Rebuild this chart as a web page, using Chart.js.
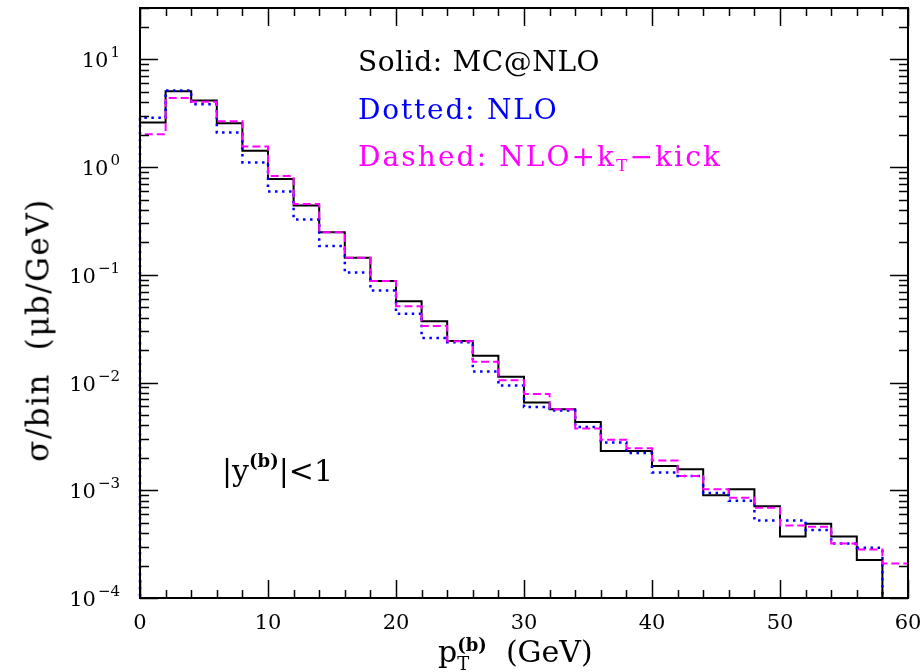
<!DOCTYPE html>
<html>
<head>
<meta charset="utf-8">
<title>b-quark transverse momentum</title>
<script src="https://cdn.jsdelivr.net/npm/chart.js@4/dist/chart.umd.min.js"></script>
<style>
    body { margin: 0; background: #fff; }
    #wrap { position: relative; width: 921px; height: 672px; overflow: hidden; font-family: "DejaVu Serif", serif; color: #000; }
    canvas { position: absolute; left: 0; top: 0; }
    .label { position: absolute; white-space: nowrap; line-height: 1; }
    .legend { font-size: 28px; left: 358px; }
    .stack { display: inline-block; vertical-align: -0.42em; font-size: 0.6em; line-height: 1.05; text-align: left; }
    .stack span { display: block; }
    .bold { font-weight: bold; }
    sub { font-size: 0.6em; vertical-align: -0.3em; }
    sup { font-size: 0.6em; vertical-align: 0.75em; }
</style>
</head>
<body>
<div id="wrap">
    <canvas id="ptChart" width="921" height="672"></canvas>
    <div class="label legend" style="top:48px; letter-spacing:0.6px;">Solid: MC@NLO</div>
    <div class="label legend" style="top:96px; letter-spacing:1.8px; color:#0000ff;">Dotted: NLO</div>
    <div class="label legend" style="top:143px; letter-spacing:2.1px; color:#ff00ff;">Dashed: NLO+k<sub>T</sub>−kick</div>
    <div class="label" style="left:222px; top:452px; font-size:30px;">|y<sup class="bold">(b)</sup>|&lt;1</div>
    <div class="label" style="left:438px; top:636px; font-size:30px;">p<span class="stack"><span class="bold">(b)</span><span>T</span></span>&nbsp; (GeV)</div>
    <div class="label" style="left:38px; top:330px; font-size:31px; letter-spacing:1.5px; transform:translate(-50%,-50%) rotate(-90deg);">σ/bin&nbsp; (μb/GeV)</div>
</div>
<script>

//Bin lower edges (GeV)
const binLow = [0, 2, 4, 6, 8, 10, 12, 14, 16, 18, 20, 22, 24, 26, 28, 30, 32, 34, 36, 38, 40, 42, 44, 46, 48, 50, 52, 54, 56, 58];
const binHigh = 60;

//Solid: MC@NLO
const mcatnlo = [2.60, 5.07, 4.16, 2.56, 1.42, 0.777, 0.441, 0.249, 0.144, 0.0876, 0.0568, 0.0370, 0.0243, 0.0177, 0.0113, 0.00652, 0.00565, 0.00431, 0.00231, 0.00231, 0.00168, 0.00157, 0.000901, 0.00102, 0.000712, 0.000373, 0.000488, 0.000373, 0.000225, 0];

//Dotted: NLO
const nlo = [2.87, 5.15, 3.84, 2.10, 1.105, 0.595, 0.327, 0.185, 0.105, 0.0714, 0.0436, 0.0259, 0.0237, 0.0127, 0.00938, 0.00594, 0.0055, 0.00387, 0.00278, 0.00222, 0.00146, 0.00136, 0.000946, 0.000798, 0.000525, 0.000525, 0.000427, 0.000321, 0.000292, 0];

//Dashed: NLO + kT kick
const nloKick = [2.02, 4.37, 4.04, 2.67, 1.556, 0.825, 0.454, 0.249, 0.144, 0.0876, 0.0510, 0.0335, 0.0242, 0.0156, 0.0105, 0.00784, 0.00565, 0.00374, 0.00295, 0.00246, 0.00189, 0.00136, 0.00102, 0.000854, 0.000687, 0.000471, 0.000458, 0.000321, 0.000282, 0.000209];

//Axis ticks
const xMajorTicks = [0, 10, 20, 30, 40, 50, 60];
const yMajorPowers = [-4, -3, -2, -1, 0, 1];
const yMin = 1e-4;
const yMax = 30;

//Empty bins sit below the axis
const floorValue = 1e-6;

//Histogram outline points
function histPoints(values) {

    const pts = [{ x: binLow[0], y: floorValue }];

    values.forEach((v, i) => {

        pts.push({ x: binLow[i], y: v > 0 ? v : floorValue });

    });

    const last = values[values.length - 1];

    pts.push({ x: binHigh, y: last > 0 ? last : floorValue });
    pts.push({ x: binHigh, y: floorValue });

    return pts;

}

//Frame, inward ticks and tick labels
const frameTicks = {

    id: "frameTicks",

    afterDatasetsDraw(chart) {

        const { ctx, chartArea: a, scales: { x, y } } = chart;

        ctx.save();
        ctx.strokeStyle = "#000";
        ctx.lineWidth = 2;
        ctx.strokeRect(a.left, a.top, a.right - a.left, a.bottom - a.top);

        ctx.lineWidth = 1.5;
        ctx.beginPath();

        //x ticks, every bin edge
        binLow.concat([binHigh]).forEach(v => {

            const px = Math.round(x.getPixelForValue(v)) + 0.5;
            const len = xMajorTicks.includes(v) ? 18 : 8;

            ctx.moveTo(px, a.bottom);
            ctx.lineTo(px, a.bottom - len);
            ctx.moveTo(px, a.top);
            ctx.lineTo(px, a.top + len);

        });

        //y ticks, decades and 2..9 minors
        yMajorPowers.forEach(p => {

            for (let m = 1; m <= 9; m++) {

                const v = m * Math.pow(10, p);

                if (v < yMin || v > yMax) continue;

                const py = Math.round(y.getPixelForValue(v)) + 0.5;
                const len = m === 1 ? 18 : 9;

                ctx.moveTo(a.left, py);
                ctx.lineTo(a.left + len, py);
                ctx.moveTo(a.right, py);
                ctx.lineTo(a.right - len, py);

            }

        });

        ctx.stroke();

        //x tick labels
        ctx.fillStyle = "#000";
        ctx.font = "21px 'DejaVu Serif'";
        ctx.textAlign = "center";
        ctx.textBaseline = "alphabetic";

        xMajorTicks.forEach(v => {

            ctx.fillText(String(v), x.getPixelForValue(v), 629);

        });

        //y tick labels as 10 with a raised exponent
        ctx.textAlign = "left";

        yMajorPowers.forEach(p => {

            const py = y.getPixelForValue(Math.pow(10, p));
            const expText = p < 0 ? "\u2212" + Math.abs(p) : String(p);

            ctx.font = "21px 'DejaVu Serif'";
            const baseW = ctx.measureText("10").width;

            ctx.font = "15px 'DejaVu Serif'";
            const expW = ctx.measureText(expText).width;

            const left = 120 - baseW - expW - 2;

            ctx.font = "21px 'DejaVu Serif'";
            ctx.fillText("10", left, py + 8);

            ctx.font = "15px 'DejaVu Serif'";
            ctx.fillText(expText, left + baseW + 2, py - 2);

        });

        ctx.restore();

    }

};

//Chart
const ctx = document.querySelector("#ptChart");

new Chart(ctx, {

    type: "line",

    data: {

        datasets: [

            {
                label: "Solid: MC@NLO",
                data: histPoints(mcatnlo),
                borderColor: "#000000",
                borderWidth: 2,
                order: 2
            },

            {
                label: "Dotted: NLO",
                data: histPoints(nlo),
                borderColor: "#0000ff",
                borderWidth: 2.5,
                borderDash: [2.5, 4.5],
                order: 1
            },

            {
                label: "Dashed: NLO+kT-kick",
                data: histPoints(nloKick),
                borderColor: "#ff00ff",
                borderWidth: 2,
                borderDash: [8, 4],
                order: 0
            }

        ]

    },

    options: {

        responsive: false,
        animation: false,
        devicePixelRatio: 1,

        layout: {

            padding: { left: 140, right: 13, top: 8, bottom: 74 }

        },

        elements: {

            point: { radius: 0 },

            line: {
                stepped: true,
                tension: 0,
                fill: false,
                borderCapStyle: "butt"
            }

        },

        datasets: {

            line: {
                clip: { left: 3, top: 0, right: 3, bottom: 0 }
            }

        },

        scales: {

            x: {
                type: "linear",
                min: 0,
                max: binHigh,
                display: false
            },

            y: {
                type: "logarithmic",
                min: yMin,
                max: yMax,
                display: false
            }

        },

        plugins: {

            legend: { display: false },
            tooltip: { enabled: false }

        }

    },

    plugins: [frameTicks]

});

</script>
</body>
</html>
